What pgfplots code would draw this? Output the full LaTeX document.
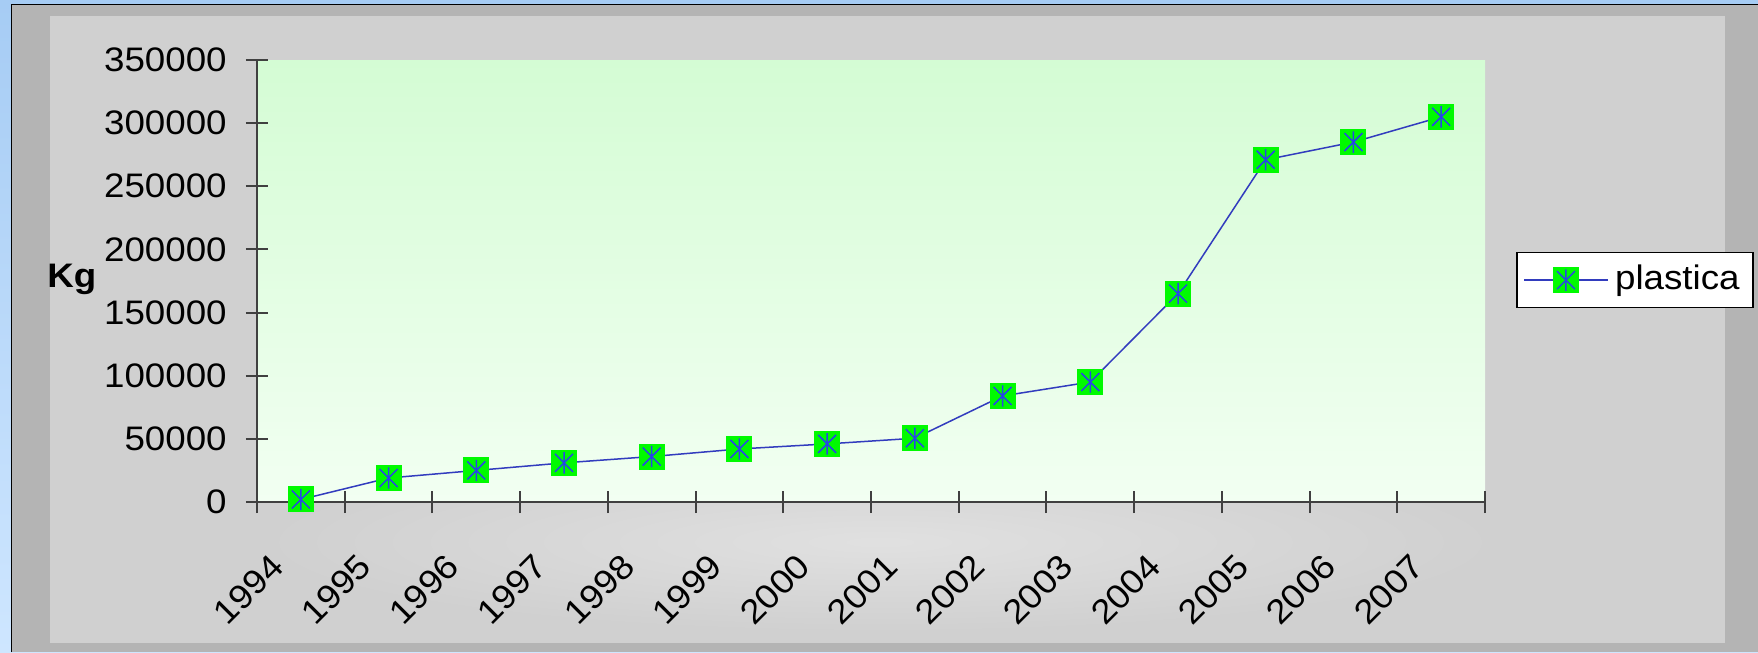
\documentclass[border=0pt]{standalone}
\usepackage{fontspec}
\setmainfont{Liberation Sans}[FakeStretch=1.08]
\usepackage{pgfplots}
\usepackage{pgfplotstable}
\pgfplotsset{compat=1.18}
\definecolor{bluetop}{RGB}{166,204,244}
\definecolor{bluebot}{RGB}{206,230,255}
\definecolor{framegray}{RGB}{180,180,180}
\definecolor{panelgray}{RGB}{208,208,208}
\definecolor{greentop}{RGB}{212,252,212}
\definecolor{greenbot}{RGB}{242,255,242}
\definecolor{linecol}{RGB}{50,60,190}
\definecolor{starblue}{RGB}{40,70,230}
\definecolor{markgreen}{RGB}{0,250,0}
\pgfdeclareplotmark{gstar}{%
  \pgfpathrectangle{\pgfpoint{-3.9pt}{-3.9pt}}{\pgfpoint{7.8pt}{7.8pt}}%
  \pgfsetfillcolor{markgreen}\pgfusepath{fill}%
  \pgfsetlinewidth{0.45pt}%
  \pgfpathmoveto{\pgfpoint{0pt}{-3.2pt}}\pgfpathlineto{\pgfpoint{0pt}{3.2pt}}%
  \pgfpathmoveto{\pgfpoint{-2.7pt}{-2.7pt}}\pgfpathlineto{\pgfpoint{2.7pt}{2.7pt}}%
  \pgfpathmoveto{\pgfpoint{-2.7pt}{2.7pt}}\pgfpathlineto{\pgfpoint{2.7pt}{-2.7pt}}%
  \pgfsetstrokecolor{starblue}\pgfusepath{stroke}}
\pgfplotstableread{
x y
0 2000
1 19000
2 25000
3 31000
4 36000
5 42000
6 46000
7 50500
8 84000
9 95000
10 165000
11 271000
12 285000
13 305000
}\datatable
\begin{document}
\begin{tikzpicture}[x=0.3pt,y=0.3pt]
\useasboundingbox (0,0) rectangle (1758,652);
\shade[top color=bluetop,bottom color=bluebot] (0,0) rectangle (1758,652);
\fill[framegray] (12,0) rectangle (1758,647.5);
\draw[black,line width=0.5pt] (11.5,0) -- (11.5,647.5) -- (1758,647.5);
\fill[panelgray] (50,9) rectangle (1725,636);
\shade[inner color=black!12, outer color=panelgray] (260,20) rectangle (1500,200);
\begin{axis}[
  at={(77.1pt,45pt)}, anchor=south west,
  scale only axis, width=368.4pt, height=132.6pt,
  xmin=-0.5, xmax=13.5, ymin=0, ymax=350000,
  axis x line*=bottom, axis y line*=left,
  axis line style={-, line width=0.6pt, black!75},
  axis background/.style={shade, top color=greentop, bottom color=greenbot},
  xtick={0,...,13},
  xticklabels={1994,1995,1996,1997,1998,1999,2000,2001,2002,2003,2004,2005,2006,2007},
  major x tick style={draw=none},
  minor xtick={-0.5,0.5,...,13.5},
  ytick={0,50000,100000,150000,200000,250000,300000,350000},
  yticklabels={0,50000,100000,150000,200000,250000,300000,350000},
  tick align=center,
  major tick length=6.6pt, minor tick length=6.6pt,
  tick style={black!75, line width=0.6pt},
  scaled y ticks=false,
  tick label style={font=\fontsize{10.2}{12}\selectfont},
  yticklabel style={anchor=east, inner sep=0pt, xshift=-5.6pt},
  xticklabel style={xshift=-9.6pt, yshift=-11.4pt, rotate=45, anchor=north east, inner sep=0pt},
  ylabel={Kg},
  ylabel style={rotate=-90, font=\bfseries\fontsize{10.2}{12}\selectfont, at={(axis description cs:-0.1507,0.503)}, anchor=center},
  legend style={at={(1.0252,0.502)}, anchor=west, draw=black, line width=0.5pt, fill=white,
    font=\fontsize{10.2}{12}\selectfont, inner xsep=2pt, inner ysep=1.8pt},
  legend image code/.code={\draw[mark repeat=2,mark phase=2] plot coordinates {(0cm,0cm) (0.44cm,0cm) (0.88cm,0cm)};},
]
\addplot[color=linecol, line width=0.45pt, mark=gstar] table[x=x,y=y] {\datatable};
\addlegendentry{plastica}
\end{axis}
\end{tikzpicture}
\end{document}
